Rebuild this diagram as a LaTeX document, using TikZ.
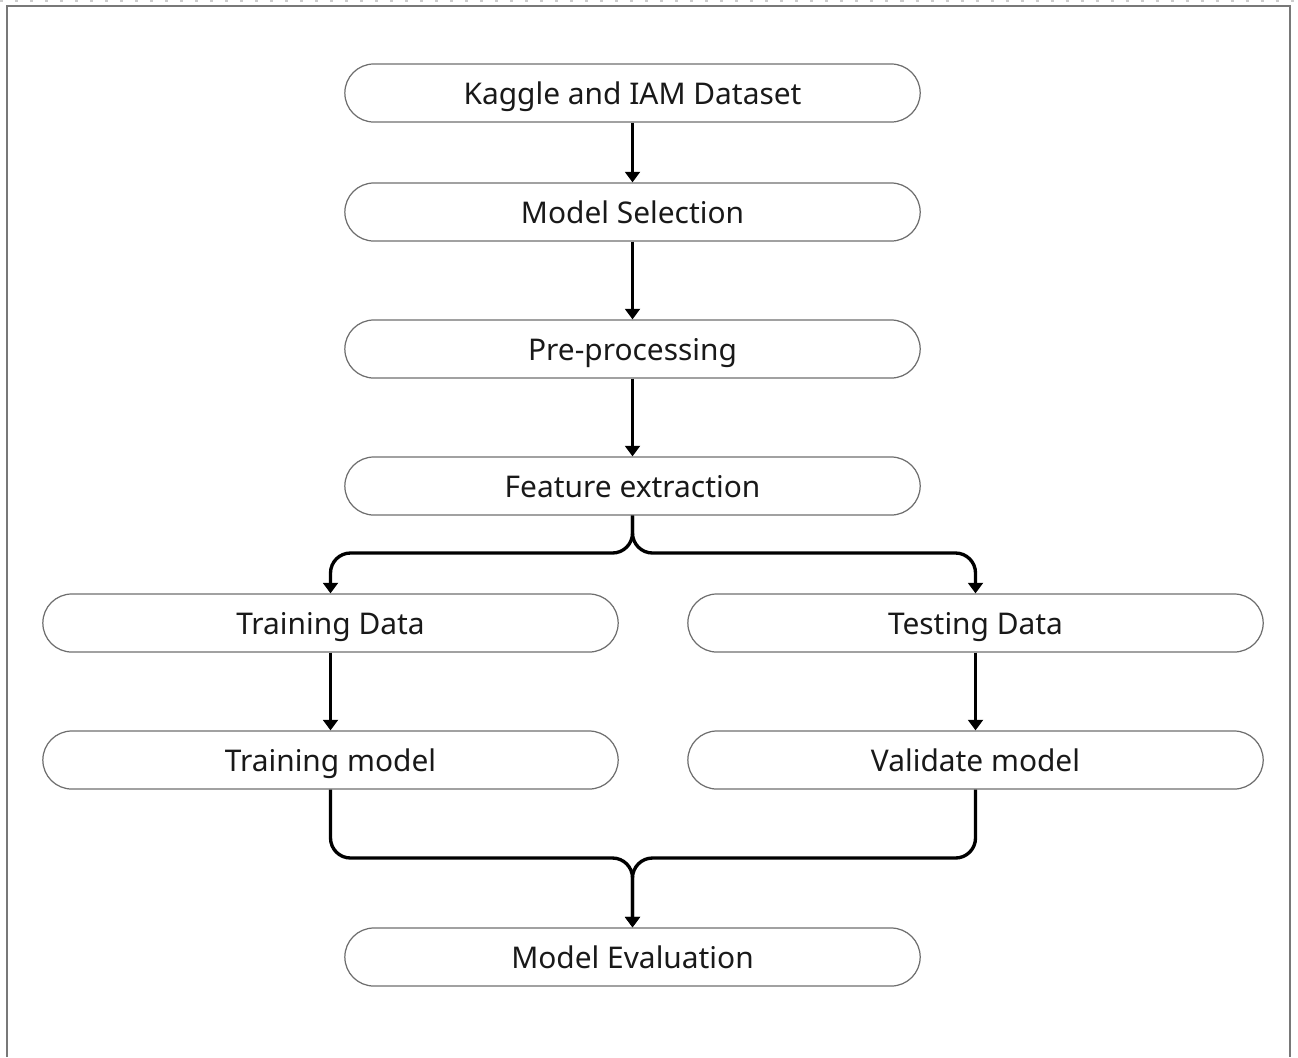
\documentclass[tikz,border=0pt]{standalone}
\usepackage{fontspec}
\setmainfont{Noto Sans}
\usepackage{tikz}
\usetikzlibrary{arrows.meta,positioning}
\definecolor{frame}{RGB}{120,120,120}
\definecolor{pillline}{RGB}{110,110,110}

\begin{document}
\begin{tikzpicture}[x=0.01cm,y=-0.01cm,font=\fontsize{8.5}{10}\selectfont,
      pill/.style={draw=pillline,line width=0.35pt,rounded corners=0.29cm,minimum width=5.75cm,minimum height=0.58cm,inner sep=0pt,text height=0.8em,text depth=0.14em,text=black!90},
      ar/.style={line width=0.95pt,-{Triangle[width=4.2pt,length=3pt]}},
      fl/.style={line width=0.95pt,rounded corners=0.2cm,-{Triangle[width=4.2pt,length=3pt]}}]
    \useasboundingbox (0,0) rectangle (1298,1057);
    % page frame
    \draw[black!20,line width=0.6pt,dash pattern=on 0.03cm off 0.12cm] (0,1) -- (1298,1);
    \draw[frame,line width=0.6pt] (7,1057) -- (7,6) -- (1290,6) -- (1290,1057);
    % steps
    \node[pill] (DS)  at (632.5,93)  {Kaggle and IAM Dataset};
    \node[pill] (MS)  at (632.5,212) {Model Selection};
    \node[pill] (PP)  at (632.5,349) {Pre-processing};
    \node[pill] (FE)  at (632.5,486) {Feature extraction};
    \node[pill] (TrD) at (330.5,623) {Training Data};
    \node[pill] (TeD) at (975.5,623) {Testing Data};
    \node[pill] (TrM) at (330.5,760) {Training model};
    \node[pill] (VM)  at (975.5,760) {Validate model};
    \node[pill] (ME)  at (632.5,957) {Model Evaluation};
    \coordinate (split) at (632.5,553);
    \coordinate (merge) at (632.5,858);
    \draw[ar] (DS) -- (MS);
    \draw[ar] (MS) -- (PP);
    \draw[ar] (PP) -- (FE);
    \draw[fl] (FE.south) -- (split) -| (TrD.north);
    \draw[fl] (FE.south) -- (split) -| (TeD.north);
    \draw[ar] (TrD) -- (TrM);
    \draw[ar] (TeD) -- (VM);
    \draw[fl] (TrM.south) |- (merge) -- (ME.north);
    \draw[fl] (VM.south) |- (merge) -- (ME.north);
  \end{tikzpicture}
\end{document}
